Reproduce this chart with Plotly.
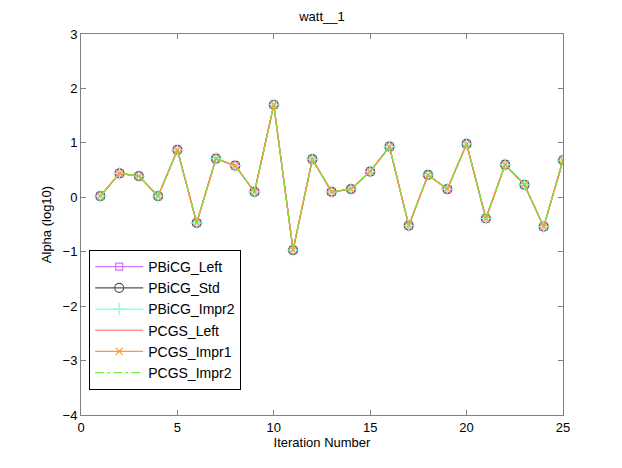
import plotly.graph_objects as go

# iteration numbers and alpha values (log10), same for every solver
iters = list(range(1, 26))
alpha = [0.02, 0.44, 0.39, 0.02, 0.87, -0.47, 0.71, 0.58, 0.10, 1.70,
         -0.97, 0.70, 0.10, 0.15, 0.47, 0.93, -0.52, 0.41, 0.15, 0.98,
         -0.39, 0.60, 0.23, -0.54, 0.68]

names = ['PBiCG_Left', 'PBiCG_Std', 'PBiCG_Impr2', 'PCGS_Left', 'PCGS_Impr1', 'PCGS_Impr2']
colors = ['#cc77ff', '#555555', '#88ffdd', '#ff6666', '#ff9933', '#77ee33']
symbols = ['square-open', 'circle-open', 'cross-thin-open', None, 'x-thin-open', None]
sizes = [7, 9, 9, 0, 7, 0]
dashes = ['solid', 'solid', 'solid', 'solid', 'solid', 'dashdot']

fig = go.Figure()
for name, col, sym, sz, dash in zip(names, colors, symbols, sizes, dashes):
    if sym:
        fig.add_trace(go.Scatter(
            x=iters, y=alpha, name=name, mode='lines+markers',
            line=dict(color=col, width=1.2, dash=dash),
            marker=dict(symbol=sym, size=sz, color=col,
                        line=dict(color=col, width=1.2))
        ))
    else:
        fig.add_trace(go.Scatter(
            x=iters, y=alpha, name=name, mode='lines',
            line=dict(color=col, width=1.2, dash=dash)
        ))

axis_style = dict(
    showgrid=False, zeroline=False, showline=True, linecolor='#808080',
    linewidth=1, mirror='ticks', ticks='inside', ticklen=5,
    tickcolor='#808080', tickfont=dict(size=13, color='black')
)

# page body has an 8px margin, so margins are shifted to land the box at 81..563 / 34..415
fig.update_layout(
    width=622, height=468,
    margin=dict(l=73, r=67, t=26, b=61),
    paper_bgcolor='white', plot_bgcolor='white',
    font=dict(family='Liberation Sans, Arial, sans-serif', size=13, color='black'),
    title=dict(text='watt__1', x=0.5, xref='paper', xanchor='center',
               y=0.972, yanchor='bottom', font=dict(size=13)),
    xaxis=dict(range=[0, 25], dtick=5,
               title=dict(text='Iteration Number', standoff=2, font=dict(size=13)),
               **axis_style),
    yaxis=dict(range=[-4, 3], dtick=1,
               title=dict(text='Alpha (log10)', standoff=8, font=dict(size=13)),
               **axis_style),
    legend=dict(x=0.017, y=0.433, xanchor='left', yanchor='top',
                bgcolor='white', bordercolor='black', borderwidth=1,
                font=dict(size=14), tracegroupgap=0, itemwidth=48),
    showlegend=True
)

fig.write_html("out.html")
